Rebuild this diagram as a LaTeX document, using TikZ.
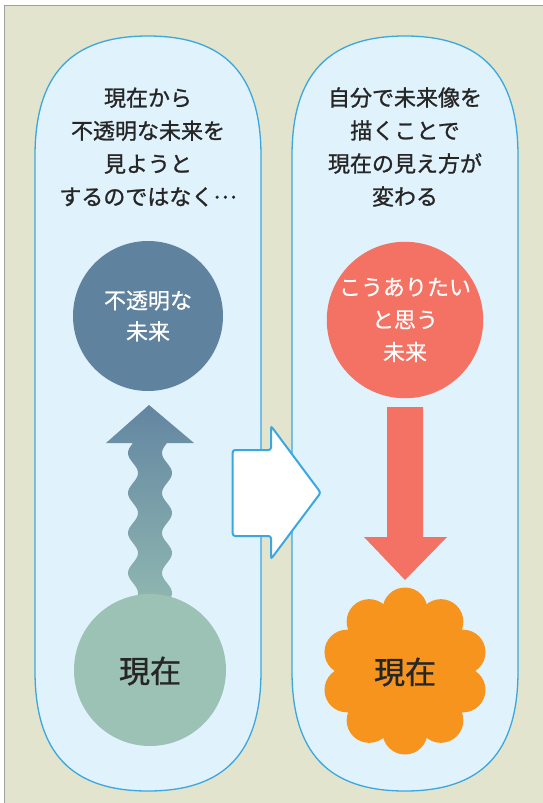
\documentclass[tikz,border=0pt]{standalone}
\usepackage{fontspec}
\setmainfont{Noto Sans CJK JP}
\newfontfamily\jp[FakeBold=1.1]{Noto Sans CJK JP}
\newfontfamily\jpw[FakeBold=0.6]{Noto Sans CJK JP}
\usetikzlibrary{calc}
\definecolor{beige}{HTML}{E2E4CE}
\definecolor{framegray}{HTML}{A0A0A0}
\definecolor{pillfill}{HTML}{E0F2FC}
\definecolor{pillline}{HTML}{3BA7DF}
\definecolor{fogblue}{HTML}{5F839F}
\definecolor{coral}{HTML}{F37263}
\definecolor{orng}{HTML}{F7941D}
\definecolor{nowgreen}{HTML}{9CC2B6}
\definecolor{txtdark}{HTML}{262626}
\definecolor{wavetop}{HTML}{6386A1}
\definecolor{wavebot}{HTML}{91B9B1}
\tikzset{
  pill/.style={fill=pillfill, draw=pillline, line width=1.3pt},
  headtext/.style={font=\jp\fontsize{22}{33}\selectfont, text=txtdark, align=center, inner sep=0pt},
  ball/.style={circle, minimum size=150pt, inner sep=0pt, align=center},
  balltext/.style={font=\jpw\fontsize{22}{31}\selectfont, text=white},
  nowtext/.style={font=\jp\fontsize{31}{36}\selectfont, text=txtdark, inner sep=0pt}
}
\newcommand{\pillpath}[1]{%
  ({#1-113},156) .. controls ({#1-113},74.4) and ({#1-76.8},36) .. ({#1},36)
  .. controls ({#1+76.8},36) and ({#1+113},74.4) .. ({#1+113},156)
  -- ({#1+113},671) .. controls ({#1+113},752.6) and ({#1+76.8},791) .. ({#1},791)
  .. controls ({#1-76.8},791) and ({#1-113},752.6) .. ({#1-113},671) -- cycle}
\begin{document}
\begin{tikzpicture}[x=1pt,y=-1pt]
\useasboundingbox (0,0) rectangle (543,803);
% background frame
\fill[beige] (4.5,5.5) rectangle (543,803);
\draw[framegray, line width=1pt] (4.5,803) -- (4.5,5.5) -- (543,5.5);
% pills
\draw[pill] \pillpath{148};
\draw[pill] \pillpath{405};
% header texts
\node[headtext] (lhead) at (148,147) {現在から\\不透明な未来を\\見ようと\\するのではなく\raisebox{0.3em}{…}};
\node[headtext] (rhead) at (405,147) {自分で未来像を\\描くことで\\現在の見え方が\\変わる};
% wavy arrow (left)
\shade[top color=wavetop, bottom color=wavebot]
  (149,405) -- (194,443) -- (167,443)
  -- plot[domain=443:612, samples=90] ({167+5*sin(9*(\x-463))}, \x)
  -- plot[domain=612:443, samples=90] ({133+5*sin(9*(\x-463))}, \x)
  -- (106,443) -- cycle;
% left circles
\node[ball, fill=fogblue, balltext] (opaque) at (148,316) {不透明な\\未来};
\node[ball, fill=nowgreen, minimum size=152pt] (nowL) at (150,670) {};
\node[nowtext] (nowLt) at (150,671) {現在};
% middle arrow
\draw[fill=white, draw=pillline, line width=2pt, rounded corners=2.5pt]
  (232.7,450) -- (271,450) -- (271,426) -- (320.7,492.7) -- (271,559) -- (271,536) -- (232.7,536) -- cycle;
% right side
\node[ball, fill=coral, balltext, font=\jpw\fontsize{22}{32.5}\selectfont] (wish) at (405,320) {こうありたい\\と思う\\未来};
\fill[coral] (387,407) -- (423,407) -- (423,537) -- (447,537) -- (405,580) -- (364,537) -- (387,537) -- cycle;
% flower
\fill[orng] (405,671) circle (62);
\foreach \k in {0,...,9} {
  \fill[orng] ($(405,671)+({90+36*\k}:61)$) circle (22.5);
}
\node[nowtext] (nowR) at (405,672) {現在};
\end{tikzpicture}
\end{document}
